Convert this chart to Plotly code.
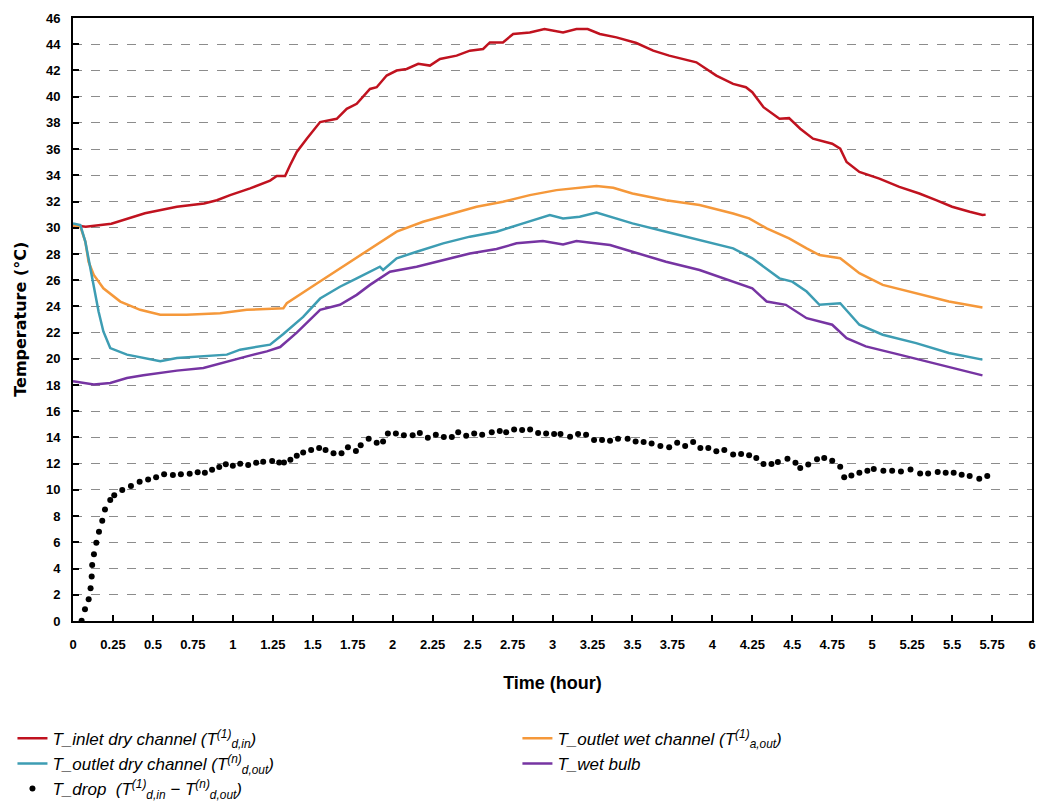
import plotly.graph_objects as go

# ---- data ----
t_inlet = [0, 0.08, 0.24, 0.45, 0.65, 0.82, 0.9, 0.983, 1.108, 1.233, 1.275, 1.327, 1.358, 1.40, 1.4625, 1.546,
           1.65, 1.7125, 1.775, 1.858, 1.9, 1.9625, 2.025, 2.0875, 2.16, 2.233, 2.296, 2.4, 2.483, 2.566, 2.608,
           2.69, 2.754, 2.858, 2.95, 3.066, 3.15, 3.22, 3.296, 3.4, 3.525, 3.63, 3.73, 3.84, 3.9, 4.025, 4.13,
           4.21, 4.25, 4.32, 4.42, 4.48, 4.55, 4.63, 4.75, 4.80, 4.84, 4.92, 5.045, 5.17, 5.295, 5.4, 5.5, 5.61,
           5.69, 5.71]
T_inlet = [30.2, 30.07, 30.3, 31.1, 31.6, 31.85, 32.1, 32.49, 33.0, 33.6, 33.95, 33.95, 34.77, 35.78, 36.79, 38.06,
           38.31, 39.07, 39.45, 40.59, 40.72, 41.61, 41.99, 42.11, 42.5, 42.37, 42.87, 43.13, 43.51, 43.64, 44.14,
           44.14, 44.78, 44.9, 45.16, 44.9, 45.16, 45.16, 44.78, 44.52, 44.09, 43.51, 43.13, 42.83, 42.62, 41.61,
           40.97, 40.72, 40.34, 39.2, 38.31, 38.36, 37.55, 36.79, 36.41, 36.03, 35.02, 34.26, 33.75, 33.12, 32.61,
           32.1, 31.6, 31.22, 30.97, 31.0]

t_wet_out = [0, 0.046, 0.077, 0.0975, 0.13, 0.19, 0.296, 0.42, 0.546, 0.71, 0.92, 1.0875, 1.316, 1.3375, 1.504,
             1.67, 1.796, 1.858, 2.025, 2.19, 2.358, 2.525, 2.69, 2.858, 3.025, 3.17, 3.275, 3.38, 3.5, 3.71, 3.92,
             4.13, 4.23, 4.34, 4.48, 4.59, 4.67, 4.80, 4.92, 5.066, 5.275, 5.48, 5.69]
T_wet_out = [30.2, 30.08, 28.94, 27.4, 26.4, 25.38, 24.37, 23.74, 23.36, 23.36, 23.48, 23.74, 23.86, 24.24, 25.58,
             26.9, 27.92, 28.43, 29.7, 30.46, 31.01, 31.6, 31.98, 32.49, 32.87, 33.07, 33.19, 33.05, 32.61, 32.1,
             31.73, 31.09, 30.71, 29.95, 29.19, 28.43, 27.92, 27.67, 26.53, 25.64, 25.0, 24.37, 23.92]

t_dry_out = [0, 0.046, 0.077, 0.108, 0.13, 0.16, 0.19, 0.233, 0.3375, 0.44, 0.546, 0.65, 0.816, 0.9625, 1.0456,
             1.17, 1.233, 1.316, 1.44, 1.546, 1.67, 1.775, 1.816, 1.92, 1.94, 2.025, 2.15, 2.316, 2.483, 2.65,
             2.816, 2.983, 3.066, 3.17, 3.275, 3.36, 3.42, 3.5, 3.71, 3.92, 4.13, 4.25, 4.42, 4.5, 4.59, 4.67,
             4.80, 4.92, 5.066, 5.275, 5.48, 5.69]
T_dry_out = [30.33, 30.2, 28.94, 26.9, 25.38, 23.61, 22.09, 20.82, 20.32, 20.06, 19.81, 20.06, 20.19, 20.32, 20.7,
             20.95, 21.08, 21.9, 23.2, 24.6, 25.5, 26.14, 26.4, 27.03, 26.78, 27.67, 28.17, 28.81, 29.32, 29.7,
             30.33, 30.97, 30.71, 30.84, 31.16, 30.84, 30.58, 30.33, 29.7, 29.06, 28.43, 27.67, 26.14, 25.89, 25.13,
             24.12, 24.24, 22.6, 21.84, 21.2, 20.44, 19.94]

t_wetbulb = [0, 0.13, 0.233, 0.3375, 0.44, 0.546, 0.65, 0.816, 0.9625, 1.0875, 1.2125, 1.296, 1.4, 1.546, 1.67,
             1.775, 1.858, 1.983, 2.15, 2.316, 2.483, 2.65, 2.775, 2.94, 3.066, 3.15, 3.23, 3.36, 3.5, 3.71, 3.92,
             4.13, 4.25, 4.34, 4.46, 4.59, 4.75, 4.84, 4.96, 5.17, 5.38, 5.69]
T_wetbulb = [18.29, 18.04, 18.16, 18.54, 18.74, 18.92, 19.1, 19.3, 19.81, 20.19, 20.57, 20.9, 22.0, 23.74, 24.12,
             24.88, 25.64, 26.65, 27.03, 27.54, 28.04, 28.38, 28.81, 28.99, 28.73, 28.99, 28.88, 28.68, 28.17, 27.41,
             26.78, 25.89, 25.38, 24.37, 24.12, 23.1, 22.6, 21.58, 20.95, 20.32, 19.68, 18.74]

t_drop = [0.054, 0.075, 0.098, 0.11, 0.117, 0.12, 0.131, 0.146, 0.1625, 0.183, 0.2, 0.233, 0.258, 0.308, 0.3625,
          0.417, 0.47, 0.52, 0.57, 0.625, 0.675, 0.73, 0.78, 0.825, 0.87, 0.915, 0.956, 1.0, 1.046, 1.096, 1.146,
          1.19, 1.246, 1.29, 1.32, 1.36, 1.40, 1.44, 1.49, 1.54, 1.58, 1.63, 1.68, 1.72, 1.77, 1.80, 1.85, 1.90,
          1.94, 1.97, 2.02, 2.07, 2.125, 2.17, 2.22, 2.27, 2.32, 2.37, 2.41, 2.46, 2.51, 2.56, 2.62, 2.67, 2.71,
          2.76, 2.81, 2.86, 2.91, 2.96, 3.01, 3.05, 3.11, 3.16, 3.21, 3.26, 3.31, 3.36, 3.41, 3.47, 3.52, 3.57,
          3.62, 3.675, 3.73, 3.78, 3.83, 3.88, 3.925, 3.975, 4.025, 4.075, 4.13, 4.18, 4.23, 4.275, 4.32, 4.37,
          4.41, 4.47, 4.52, 4.55, 4.60, 4.655, 4.70, 4.75, 4.80, 4.825, 4.87, 4.92, 4.97, 5.01, 5.07, 5.125, 5.18,
          5.24, 5.30, 5.35, 5.41, 5.46, 5.51, 5.56, 5.61, 5.67, 5.72]
T_drop = [0.02, 0.89, 1.65, 2.5, 3.4, 4.27, 5.1, 5.97, 6.8, 7.65, 8.5, 9.23, 9.6, 10.0, 10.3,
          10.63, 10.8, 10.96, 11.2, 11.14, 11.2, 11.24, 11.34, 11.3, 11.54, 11.75, 11.95, 11.85, 12.0, 11.9, 12.08,
          12.15, 12.2, 12.1, 12.1, 12.3, 12.6, 12.85, 13.05, 13.2, 13.05, 12.8, 12.8, 13.25, 12.97, 13.4, 13.9, 13.6,
          13.7, 14.3, 14.3, 14.17, 14.17, 14.34, 13.98, 14.2, 14.04, 14.04, 14.4, 14.13, 14.3, 14.2, 14.4, 14.5, 14.4,
          14.6, 14.57, 14.6, 14.34, 14.3, 14.26, 14.26, 14.06, 14.26, 14.2, 13.8, 13.8, 13.75, 13.9, 13.9, 13.7, 13.65,
          13.55, 13.35, 13.25, 13.6, 13.35, 13.65, 13.2, 13.2, 12.94, 13.04, 12.7, 12.74, 12.64, 12.43, 11.97, 11.97,
          12.13, 12.38, 12.07, 11.67, 11.93, 12.33, 12.43, 12.23, 11.77, 10.96, 11.1, 11.3, 11.46, 11.6, 11.46, 11.46,
          11.4, 11.56, 11.26, 11.26, 11.36, 11.3, 11.3, 11.15, 11.06, 10.86, 11.06]

x_tickvals = [0, 0.25, 0.5, 0.75, 1, 1.25, 1.5, 1.75, 2, 2.25, 2.5, 2.75, 3, 3.25, 3.5, 3.75, 4, 4.25, 4.5,
              4.75, 5, 5.25, 5.5, 5.75, 6]
x_ticktext = ["0", "0.25", "0.5", "0.75", "1", "1.25", "1.5", "1.75", "2", "2.25", "2.5", "2.75", "3", "3.25",
              "3.5", "3.75", "4", "4.25", "4.5", "4.75", "5", "5.25", "5.5", "5.75", "6"]
y_tickvals = list(range(0, 47, 2))
y_ticktext = [str(v) for v in y_tickvals]

x_title = "Time (hour)"
y_title = "Temperature (\u00b0C)"

names = [
    "<i>T_inlet dry channel (T<sup>(1)</sup><sub>d,in</sub>)</i>",
    "<i>T_outlet wet channel (T<sup>(1)</sup><sub>a,out</sub>)</i>",
    "<i>T_outlet dry channel (T<sup>(n)</sup><sub>d,out</sub>)</i>",
    "<i>T_wet bulb</i>",
    "<i>T_drop  (T<sup>(1)</sup><sub>d,in</sub> \u2212 T<sup>(n)</sup><sub>d,out</sub>)</i>",
]

fig = go.Figure()
fig.add_trace(go.Scatter(x=t_inlet, y=T_inlet, mode="lines", name=names[0], legend="legend",
                         line=dict(color="#C0121F", width=2.5)))
fig.add_trace(go.Scatter(x=t_wet_out, y=T_wet_out, mode="lines", name=names[1], legend="legend2",
                         line=dict(color="#F5983A", width=2.5)))
fig.add_trace(go.Scatter(x=t_dry_out, y=T_dry_out, mode="lines", name=names[2], legend="legend",
                         line=dict(color="#3D9DB3", width=2.5)))
fig.add_trace(go.Scatter(x=t_wetbulb, y=T_wetbulb, mode="lines", name=names[3], legend="legend2",
                         line=dict(color="#7634A2", width=2.5)))
fig.add_trace(go.Scatter(x=t_drop, y=T_drop, mode="markers", name=names[4], legend="legend",
                         marker=dict(color="black", size=6)))

FONT = "Liberation Sans Narrow, Arial Narrow, Liberation Sans, Arial"
tickfont = dict(family=FONT, size=13, color="black")
legfont = dict(family=FONT, size=17, color="black")

fig.update_layout(
    width=1039, height=808,
    paper_bgcolor="white", plot_bgcolor="white",
    margin=dict(l=73, r=7, t=18, b=187, autoexpand=False),
    font=dict(family=FONT, color="black"),
    legend=dict(orientation="v", xref="container", yref="container",
                x=0.012, xanchor="left", y=0.108, yanchor="top",
                tracegroupgap=0, font=legfont, bgcolor="rgba(0,0,0,0)"),
    legend2=dict(orientation="v", xref="container", yref="container",
                 x=0.498, xanchor="left", y=0.108, yanchor="top",
                 tracegroupgap=0, font=legfont, bgcolor="rgba(0,0,0,0)"),
    showlegend=True,
    annotations=[
        dict(text="<b>%s</b>" % y_title, xref="paper", yref="paper", x=-0.055, y=0.5,
             xanchor="center", yanchor="middle", textangle=-90, showarrow=False,
             font=dict(family="DejaVu Sans, Verdana", size=16, color="black")),
    ],
)
fig.update_xaxes(range=[0, 6], tickvals=x_tickvals, ticktext=["<b>%s</b>" % s for s in x_ticktext],
                 ticks="inside", ticklen=6, ticklabelstandoff=10,
                 tickwidth=2, tickcolor="black", showline=True, linecolor="black", linewidth=2, mirror=True,
                 showgrid=False, zeroline=False, tickfont=tickfont,
                 title=dict(text="<b>%s</b>" % x_title, standoff=26,
                            font=dict(family=FONT, size=18, color="black")))
fig.update_yaxes(range=[0, 46], tickvals=y_tickvals, ticktext=["<b>%s</b>" % s for s in y_ticktext],
                 ticks="inside", ticklen=6, ticklabelstandoff=8, tickwidth=2, tickcolor="black",
                 showline=True, linecolor="black", linewidth=2, mirror=True,
                 showgrid=True, gridcolor="#8c8c8c", griddash="dash", gridwidth=1, zeroline=False,
                 tickfont=tickfont)

fig.write_html("out.html")
